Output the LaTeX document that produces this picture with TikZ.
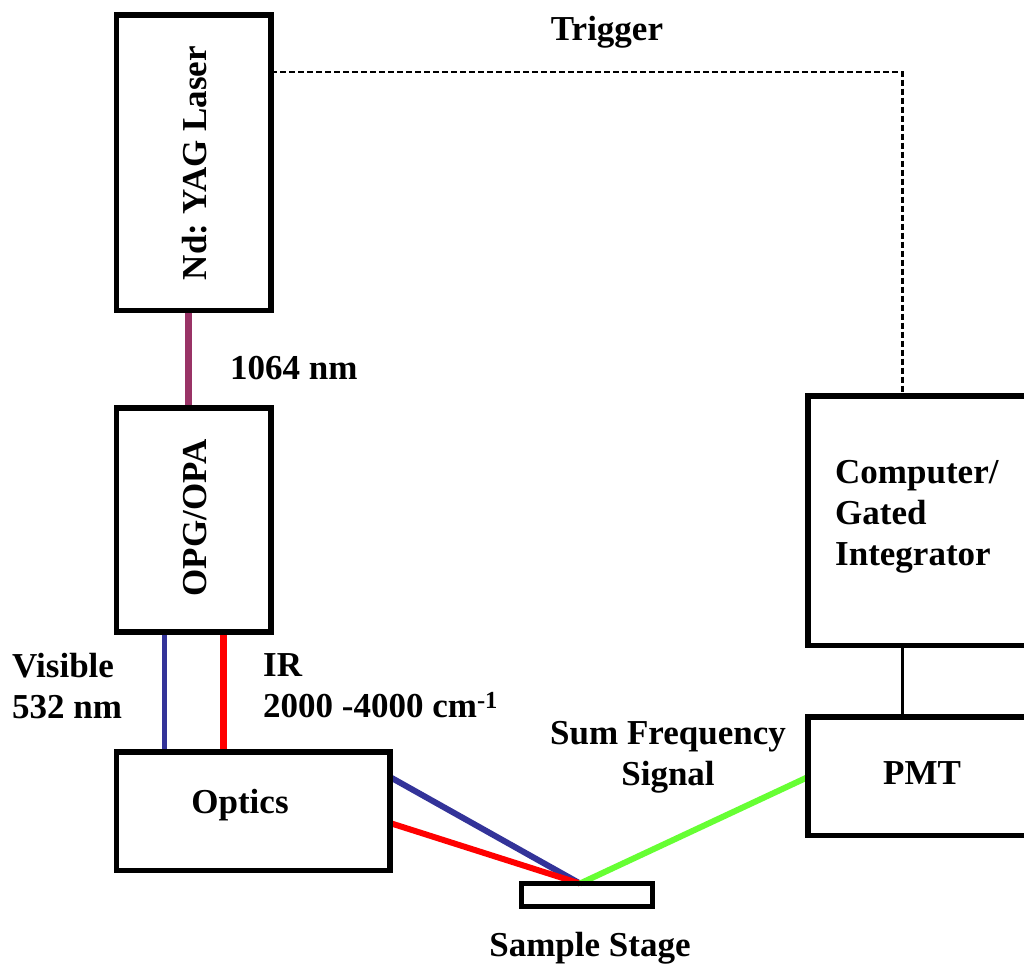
\documentclass[tikz,border=0pt]{standalone}
\usepackage{fontspec}
\setmainfont{Liberation Serif}
\usetikzlibrary{backgrounds}
\definecolor{beamblue}{HTML}{333399}
\definecolor{beamred}{HTML}{FF0000}
\definecolor{beamgreen}{HTML}{66FF33}
\definecolor{beampurple}{HTML}{993366}
\frenchspacing
\begin{document}
\begin{tikzpicture}[x=1pt,y=-1pt,
  box/.style={draw=black,line width=5.5pt,inner sep=0pt,outer sep=0pt},
  lbl/.style={font=\fontsize{35}{41}\selectfont\bfseries,inner sep=0pt},
  beam/.style={line width=6pt}]
\path[use as bounding box,clip] (0,0) rectangle (1024,969);
% boxes
\node[box,minimum width=154.5pt,minimum height=295.5pt] (laser) at (193.75,162.75) {};
\node[box,minimum width=154.5pt,minimum height=224pt] (opg) at (193.75,520) {};
\node[box,minimum width=273.5pt,minimum height=118.5pt] (optics) at (253.25,811) {};
\node[box,minimum width=131pt,minimum height=23pt] (stage) at (587,895) {};
\node[box,minimum width=332pt,minimum height=249.5pt] (comp) at (974,520.75) {};
\node[box,minimum width=332pt,minimum height=118.5pt] (pmt) at (974,776.25) {};
% labels
\node[lbl,rotate=90] (laserlbl) at (195,163) {Nd: YAG Laser};
\node[lbl,rotate=90] (opglbl) at (195,518) {OPG/OPA};
\node[lbl] (opticslbl) at (240,805) {Optics};
\node[lbl] (pmtlbl) at (922,773) {PMT};
\node[lbl,align=left,anchor=west] (complbl) at (835,517) {Computer/\\Gated\\Integrator};
\node[lbl] (trig) at (607,32) {Trigger};
\node[lbl,anchor=west] (nm1064) at (230,368) {1064 nm};
\node[lbl,align=left,anchor=west] (vislbl) at (12,686) {Visible\\532 nm};
\node[lbl,align=left,anchor=west] (irlbl) at (263,686) {IR\\2000 -4000 cm\textsuperscript{-1}};
\node[lbl,align=center] (sfglbl) at (668,757) {Sum Frequency\\Signal};
\node[lbl] (stagelbl) at (590,948) {Sample Stage};
% anchor coordinates
\coordinate (xp) at (188,0);
\coordinate (xb) at (164,0);
\coordinate (xr) at (223,0);
\coordinate (xc) at (902.5,0);
\coordinate (yt) at (0,72);
\coordinate (yb) at (0,777);
\coordinate (yr) at (0,823);
\coordinate (spot) at (580,883.5);
\begin{pgfonlayer}{background}
\fill[white] (0,0) rectangle (1024,969);
\draw[beampurple,line width=7pt] (laser.south -| xp) -- (opg.north -| xp);
\draw[beamblue,line width=5pt] (opg.south -| xb) -- (optics.north -| xb);
\draw[beamred,line width=7pt] (opg.south -| xr) -- (optics.north -| xr);
\draw[beamblue,beam] (optics.east |- yb) -- (spot);
\draw[beamred,beam] (optics.east |- yr) -- (spot);
\draw[beamgreen,beam] (spot) -- (pmt.west |- yb);
\draw[black,line width=3pt] (comp.south -| xc) -- (pmt.north -| xc);
\draw[black,line width=2.5pt,dash pattern=on 6pt off 3pt] (laser.east |- yt) -| (comp.north -| xc);
\end{pgfonlayer}
\end{tikzpicture}
\end{document}
